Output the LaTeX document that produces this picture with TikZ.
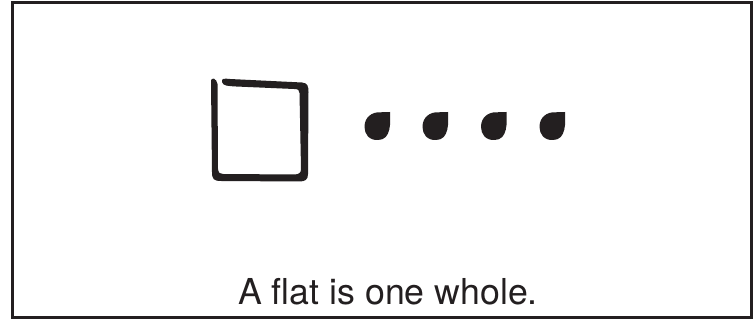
\documentclass[tikz,border=0pt]{standalone}
\usepackage{fontspec}
\setmainfont{TeX Gyre Heros}
\definecolor{ink}{RGB}{35,31,32}
\tikzset{
  frame/.style={draw=ink, line width=3pt},
  brush/.style={fill=ink, draw=none},
  caption/.style={text=ink, font=\fontsize{35.7}{42}\selectfont, inner sep=0pt, anchor=base west},
  pic drop/.pic={\fill[ink] (0,0) .. controls (0.5,10) and (1.5,28) .. (-12,28)
      .. controls (-21,28.5) and (-25.5,22) .. (-25.5,15)
      .. controls (-25.5,5) and (-18,0) .. (-10,0.3) -- cycle;}
}
\begin{document}
\begin{tikzpicture}[x=1pt,y=-1pt]
\useasboundingbox (0,0) rectangle (753,320);
\fill[white] (0,0) rectangle (753,320);
\draw[frame] (12.5,2.5) rectangle (751.5,317.5);
% hand-drawn square (flat)
\path[brush, even odd rule]
  (211,83) .. controls (210.5,75) and (217,79) .. (217.5,84)
  -- (218,169) .. controls (218.5,173) and (220,174) .. (223,174)
  -- (295,174.5) .. controls (299,174) and (301,173) .. (301,169)
  -- (299.5,93) .. controls (299.5,90) and (298,89) .. (294,89)
  -- (236,86.5) .. controls (228,86) and (223,86) .. (222,82)
  .. controls (221,78) and (225,78.5) .. (230,79)
  -- (302,82.5) .. controls (307.5,83) and (308.5,86) .. (308.5,92)
  -- (308,174) .. controls (308,180) and (305,181.5) .. (299,181.5)
  -- (221,181) .. controls (213.5,181) and (212,179) .. (212,172)
  -- cycle;
% drops (units)
\pic at (390,112) {pic drop};
\pic at (448,112) {pic drop};
\pic at (506.5,112) {pic drop};
\pic at (565,112) {pic drop};
\node[caption] (cap) at (238,305) {A flat is one whole.};
\end{tikzpicture}
\end{document}
